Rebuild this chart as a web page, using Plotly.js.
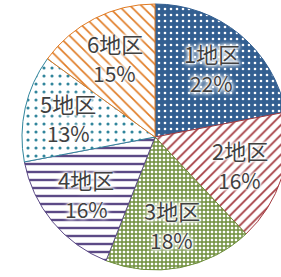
<!DOCTYPE html>
<html>
<head>
<meta charset="utf-8">
<script src="https://cdn.plot.ly/plotly-3.0.1.min.js"></script>
<style>html,body{margin:0;padding:0;overflow:hidden;background:#fff;}</style>
</head>
<body>
<div id="chart"></div>
<script>
const labels = ["1地区", "2地区", "3地区", "4地区", "5地区", "6地区"];
const values = [22, 16, 18, 16, 13, 15];
const mainColors = ["#335f91", "#a33a3f", "#6f8f3c", "#5c4a86", "#31859c", "#e07a22"];
const shapes = [".", "/", "+", "-", ".", "\\"];
const fgColors = ["#ffffff", "#a33a3f", "#6f8f3c", "#5c4a86", "#31859c", "#e07a22"];
const bgColors = ["#335f91", "#ffffff", "#ffffff", "#ffffff", "#ffffff", "#ffffff"];

const trace = {
  type: "pie",
  labels: labels,
  values: values,
  sort: false,
  direction: "clockwise",
  rotation: 0,
  textinfo: "none",
  hoverinfo: "none",
  marker: {
    colors: mainColors,
    line: { color: mainColors, width: 1 },
    pattern: {
      shape: shapes,
      fgcolor: fgColors,
      bgcolor: bgColors,
      fillmode: "replace",
      size: [6, 7, 4, 8, 8, 8],
      solidity: [0.15, 0.25, 0.6, 0.3, 0.12, 0.2]
    }
  }
};

// label positions derived from the slice mid-angles
const total = values.reduce((a, b) => a + b, 0);
const labelRadius = 0.67 * 0.5;
const font = {
  family: "Noto Sans CJK JP, Noto Sans, sans-serif",
  color: "#404040",
  shadow: "0 0 2px #fff, 0 0 3px #fff, 0 0 4px #fff, 0 0 5px #fff, 0 0 6px #fff"
};
const annotations = [];
let cum = 0;
values.forEach((v, i) => {
  const mid = (cum + v / 2) / total * 2 * Math.PI;
  cum += v;
  const x = 0.5 + labelRadius * Math.sin(mid);
  const y = 0.5 + labelRadius * Math.cos(mid);
  annotations.push({
    xref: "paper", yref: "paper", x: x, y: y, yshift: 15,
    xanchor: "center", yanchor: "middle",
    text: labels[i], showarrow: false,
    font: Object.assign({ size: 22 }, font)
  });
  annotations.push({
    xref: "paper", yref: "paper", x: x, y: y, yshift: -15,
    xanchor: "center", yanchor: "middle",
    text: Math.round(v / total * 100) + "%", showarrow: false,
    font: Object.assign({ size: 21 }, font)
  });
});

const layout = {
  width: 288,
  height: 277,
  margin: { l: 22, r: 0, t: 4, b: 7 },
  showlegend: false,
  paper_bgcolor: "#ffffff",
  plot_bgcolor: "#ffffff",
  annotations: annotations
};

Plotly.newPlot("chart", [trace], layout, { displayModeBar: false, staticPlot: true });
</script>
</body>
</html>
